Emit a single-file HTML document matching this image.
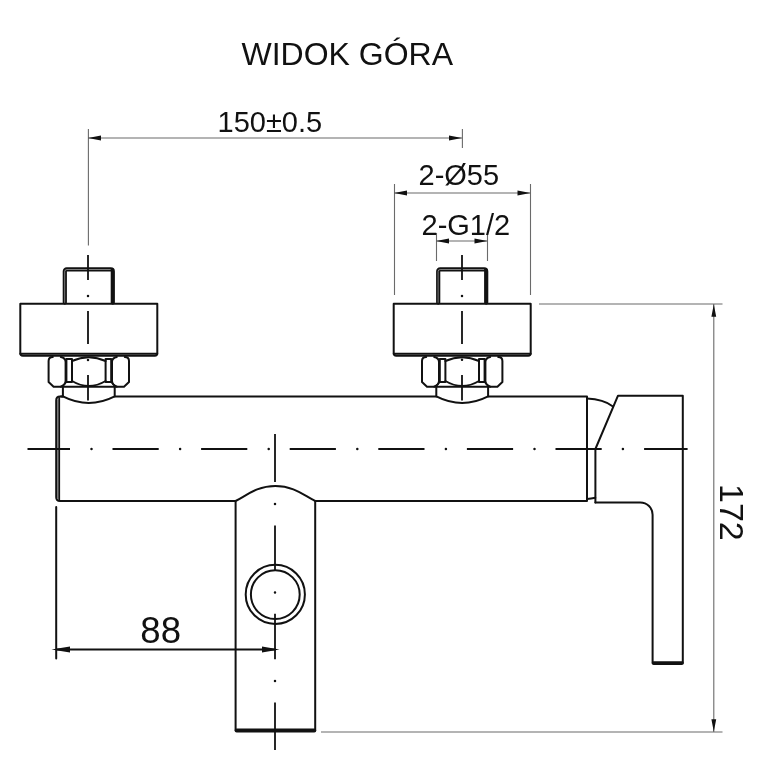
<!DOCTYPE html>
<html><head><meta charset="utf-8">
<style>
html,body{margin:0;padding:0;background:#fff;}
body{width:768px;height:768px;overflow:hidden;}
svg{display:block;will-change:transform;}
text{font-family:"Liberation Sans",sans-serif;fill:#111;}
.m{stroke:#111;stroke-width:2;fill:none;stroke-linecap:round;stroke-linejoin:round;}
.k{stroke:#111;stroke-width:3.2;fill:none;stroke-linecap:round;stroke-linejoin:round;}
.t{stroke:#6a6a6a;stroke-width:1.1;fill:none;}
.c{stroke:#111;stroke-width:1.8;fill:none;}
.a{fill:#111;stroke:none;}
</style></head><body>
<svg width="768" height="768" viewBox="0 0 768 768">
<rect width="768" height="768" fill="#fff"/>
<defs>
<g id="conn">
  <!-- stub -->
  <path class="k" style="stroke-width:4.2" d="M-24 34.6 V3.4 Q-24 1.4 -22 1.4 H22 Q24 1.4 24 3.4 V34.6"/>
  <path d="M-24.1 35 V3.6 Q-24.1 1.5 -22 1.5 H21.9" stroke="#fff" stroke-opacity=".5" stroke-width=".9" fill="none"/>
  <!-- flange -->
  <path class="m" d="M-68.5 35.8 H68.5 V85.3 Q68.5 87.7 66 87.7 H-66 Q-68.5 87.7 -68.5 85.3 Z"/>
  <path class="m" style="stroke-width:1.9" d="M-68.5 85.7 H68.5"/>
  <!-- nut -->
  <path class="m" d="M-36 89 Q-40.2 89 -40.2 93 V114 L-35.2 118.7 H35.2 L40.2 114 V93 Q40.2 89 36 89"/>
  <path class="m" d="M-28 89 Q-23.2 90 -23.2 94 V113 Q-23.2 116.5 -28 118.7"/>
  <path class="m" d="M28 89 Q23.2 90 23.2 94 V113 Q23.2 116.5 28 118.7"/>
  <path class="m" d="M-22.4 91 V114 M-16.8 91 V114 M16.8 91 V114 M22.4 91 V114 M-22.4 91 H-16.8 M-22.4 114 H-16.8 M16.8 91 H22.4 M16.8 114 H22.4"/>
  <path class="m" d="M-16.8 93 Q0 85.5 16.8 93 M-16.8 113 Q0 123 16.8 113"/>
  <path class="m" style="stroke-width:1.5" d="M-22.4 114 L-26 118 M22.4 114 L26 118"/>
  <!-- neck -->
  <path class="m" d="M-25.9 118.7 V128.4 Q0 141.6 25.9 128.4 V118.7"/>
</g>
</defs>

<!-- title -->
<text x="241.5" y="65" font-size="32">WIDOK GÓRA</text>

<!-- connectors -->
<use href="#conn" x="88.8" y="268"/>
<use href="#conn" x="462.2" y="268"/>

<!-- body -->
<path class="m" d="M62.9 396.6 H61 M114.7 396.6 H436.3 M488.1 396.6 H587 V501 H315.2 M235.5 501 H61"/>
<path class="m" d="M62.9 396.6 H60 Q56.2 396.6 56.2 400.6 V497.2 Q56.2 501 60 501 H62"/>
<path class="m" style="stroke-width:1.8" d="M59.2 398 V500"/>
<path d="M57.7 399.5 V498.5" stroke="#111" stroke-opacity=".45" stroke-width="1.4" fill="none"/>
<!-- spout -->
<path class="m" d="M235.6 730 V501 C246 496 256.5 486 275.3 486 C294.1 486 304.6 496 315.2 501 V730"/>
<path class="k" style="stroke-width:4" d="M236.6 730.4 H314.3"/>
<circle class="m" cx="275.3" cy="594.4" r="29.6"/>
<circle class="m" cx="275.3" cy="594.6" r="24.4"/>

<!-- handle -->
<path class="m" d="M587 398.6 Q603.5 399.3 613 406.5"/>
<path class="m" d="M587 499 Q591 498.8 595.3 497.8"/>
<path class="m" d="M595.4 502.4 V449 L618 395.7 H682.8 V663"/>
<path class="m" d="M595.4 502.4 H640.3 A12.3 12.3 0 0 1 652.6 514.7 V663"/>
<path class="k" style="stroke-width:3.7" d="M653.6 663.1 H681.9"/>

<!-- centerlines -->
<path class="c" d="M27.5 449 H70 M112.5 449 H158.7 M201.1 449 H247.3 M289.7 449 H335.9 M378.3 449 H424.5 M466.9 449 H513.1 M555.5 449 H601.7 M644.1 449 H687.6"/>
<path d="M91.5 449 h0.01 M180.1 449 h0.01 M268.7 449 h0.01 M357.3 449 h0.01 M445.9 449 h0.01 M534.5 449 h0.01 M622.9 449 h0.01 M88 296 h0.01 M88 360 h0.01 M462 296 h0.01 M462 359.8 h0.01 M275 504 h0.01 M275 592.6 h0.01 M275 681 h0.01" stroke="#111" stroke-width="2.5" stroke-linecap="round" fill="none"/>
<path class="c" d="M88 255 V280 M88 311 V344 M88 375 V400.5"/>
<path class="c" d="M462 255 V280 M462 311 V344 M462 375 V400.5"/>
<path class="c" d="M275 434 V482 M275 525.5 V570.5 M275 613.8 V659.3 M275 702.5 V750"/>

<!-- dims: thin -->
<path class="t" d="M88.4 129 V245.5 M462.4 129 V148 M88 138 H462"/>
<path class="t" d="M394.5 184 V295 M530.5 184 V295 M394 193 H530"/>
<path class="t" d="M436.5 233 V261 M487.5 233 V261 M436 241 H487"/>
<path class="t" d="M539 304 H722.5 M321 732 H722.5 M713.8 304.5 V731.5"/>
<!-- arrows -->
<path class="a" d="M88 138 l13 -2.4 v4.8 z M462 138 l-13 -2.4 v4.8 z"/>
<path class="a" d="M394 193 l13 -2.4 v4.8 z M530.5 193 l-13 -2.4 v4.8 z"/>
<path class="a" d="M436 241 l13 -2.4 v4.8 z M487.5 241 l-13 -2.4 v4.8 z"/>
<path class="a" d="M713.8 304.3 l-2.4 12.5 h4.8 z M713.8 731.7 l-2.4 -12.5 h4.8 z"/>

<!-- 88 dim (thick) -->
<path class="m" d="M56.2 507 V658.5 M56 649.5 H275"/>
<path class="a" d="M51.5 649.5 L70 646.5 V652.5 z M279.5 649.5 L262 646.5 V652.5 z"/>

<!-- texts -->
<text x="217.5" y="131.7" font-size="29">150±0.5</text>
<text x="418.5" y="185.2" font-size="29">2-Ø55</text>
<text x="421.5" y="234.8" font-size="29">2-G1/2</text>
<text x="140.3" y="642.8" font-size="36.6">88</text>
<text transform="translate(720 484) rotate(90)" font-size="34">172</text>
</svg>
</body></html>
